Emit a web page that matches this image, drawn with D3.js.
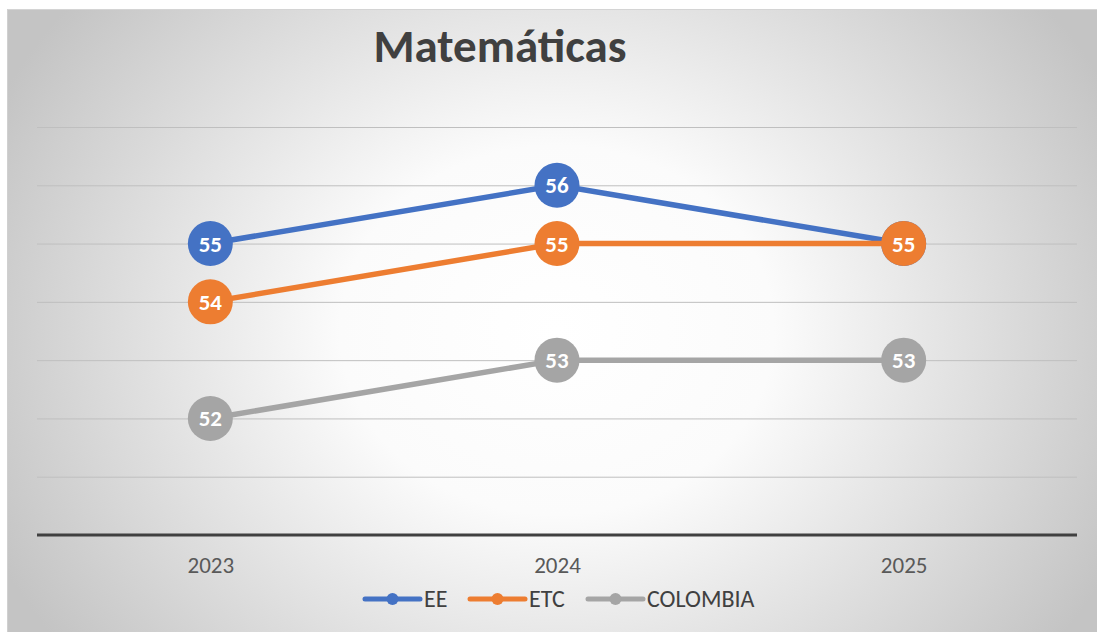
<!DOCTYPE html>
<html><head><meta charset="utf-8">
<script src="https://cdn.jsdelivr.net/npm/d3@7"></script>
<style>body{margin:0;background:#fff}svg{display:block}</style>
</head><body>
<script>
const categories = ["2023", "2024", "2025"];
const seriesNames = ["EE", "ETC", "COLOMBIA"];
const eeValues = [55, 56, 55];
const etcValues = [54, 55, 55];
const colombiaValues = [52, 53, 53];
const yTicks = [50, 51, 52, 53, 54, 55, 56, 57];
const colors = ["#4472C4", "#ED7D31", "#A5A5A5"];
const title = "Matemáticas";

const FONT = "Carlito, Calibri, 'Open Sans', sans-serif";
const W = 1097, H = 632;
const svg = d3.select("body").append("svg").attr("width", W).attr("height", H);
const defs = svg.append("defs");
const grad = defs.append("radialGradient").attr("id", "bg")
  .attr("gradientUnits", "userSpaceOnUse").attr("cx", 557).attr("cy", 330).attr("r", 620)
  .attr("gradientTransform", "translate(557,330) scale(1,0.85) translate(-557,-330)");
grad.append("stop").attr("offset", "0").attr("stop-color", "#ffffff");
grad.append("stop").attr("offset", "0.35").attr("stop-color", "#fbfbfb");
grad.append("stop").attr("offset", "1").attr("stop-color", "#c4c4c4");
svg.append("rect").attr("x", 7).attr("y", 9).attr("width", W - 7).attr("height", H - 9)
  .attr("fill", "url(#bg)");
svg.append("line").attr("x1", 7).attr("x2", W).attr("y1", 9.5).attr("y2", 9.5).attr("stroke", "#d4d4d4");
svg.append("line").attr("x1", 7.5).attr("x2", 7.5).attr("y1", 9).attr("y2", H).attr("stroke", "#d0d0d0");

const x = d3.scalePoint().domain(categories).range([37, 1077]).padding(0.5);
const y = d3.scaleLinear().domain([50, 57]).range([535, 127]);

// gridlines
const grid = svg.append("g").attr("transform", "translate(37,0)")
  .call(d3.axisLeft(y).tickValues(yTicks.slice(1)).tickSize(-(1077 - 37)).tickFormat(""));
grid.select(".domain").remove();
grid.selectAll(".tick line").attr("stroke", "#bfbfbf").attr("stroke-width", 1);

// x axis
const xa = svg.append("g").attr("transform", `translate(0,${y(50)})`)
  .call(d3.axisBottom(x).tickSize(0).tickPadding(22));
xa.select(".domain").attr("stroke", "#404040").attr("stroke-width", 3).attr("d", "M37,0H1077");
xa.selectAll("text").attr("font-family", FONT)
  .attr("font-size", 23).attr("fill", "#595959");

// title
svg.append("text").attr("x", 500).attr("y", 62).attr("text-anchor", "middle")
  .attr("font-family", FONT).attr("font-weight", "bold")
  .attr("font-size", 47).attr("fill", "#404040").text(title);

const allSeries = [eeValues, etcValues, colombiaValues];
const line = d3.line().x((d, i) => x(categories[i])).y(d => y(d));
allSeries.forEach((vals, si) => {
  const g = svg.append("g");
  g.append("path").datum(vals).attr("d", line).attr("fill", "none")
    .attr("stroke", colors[si]).attr("stroke-width", 5.5).attr("stroke-linecap", "round");
  g.selectAll("circle").data(vals).join("circle")
    .attr("cx", (d, i) => x(categories[i])).attr("cy", d => y(d)).attr("r", 22.5)
    .attr("fill", colors[si]);
  g.selectAll("text").data(vals).join("text")
    .attr("x", (d, i) => x(categories[i])).attr("y", d => y(d) + 8)
    .attr("text-anchor", "middle").attr("font-family", FONT)
    .attr("font-weight", "bold").attr("font-size", 23).attr("fill", "#ffffff").text(d => d);
});

// legend
const legendX = [365, 470, 588];
seriesNames.forEach((name, i) => {
  const g = svg.append("g").attr("transform", `translate(${legendX[i]},599)`);
  g.append("line").attr("x1", 0).attr("x2", 55).attr("stroke", colors[i])
    .attr("stroke-width", 5).attr("stroke-linecap", "round");
  g.append("circle").attr("cx", 27.5).attr("r", 6).attr("fill", colors[i]);
  g.append("text").attr("x", 59).attr("y", 8).attr("font-family", FONT)
    .attr("font-size", 24).attr("fill", "#404040").text(name);
});
</script>
</body></html>
